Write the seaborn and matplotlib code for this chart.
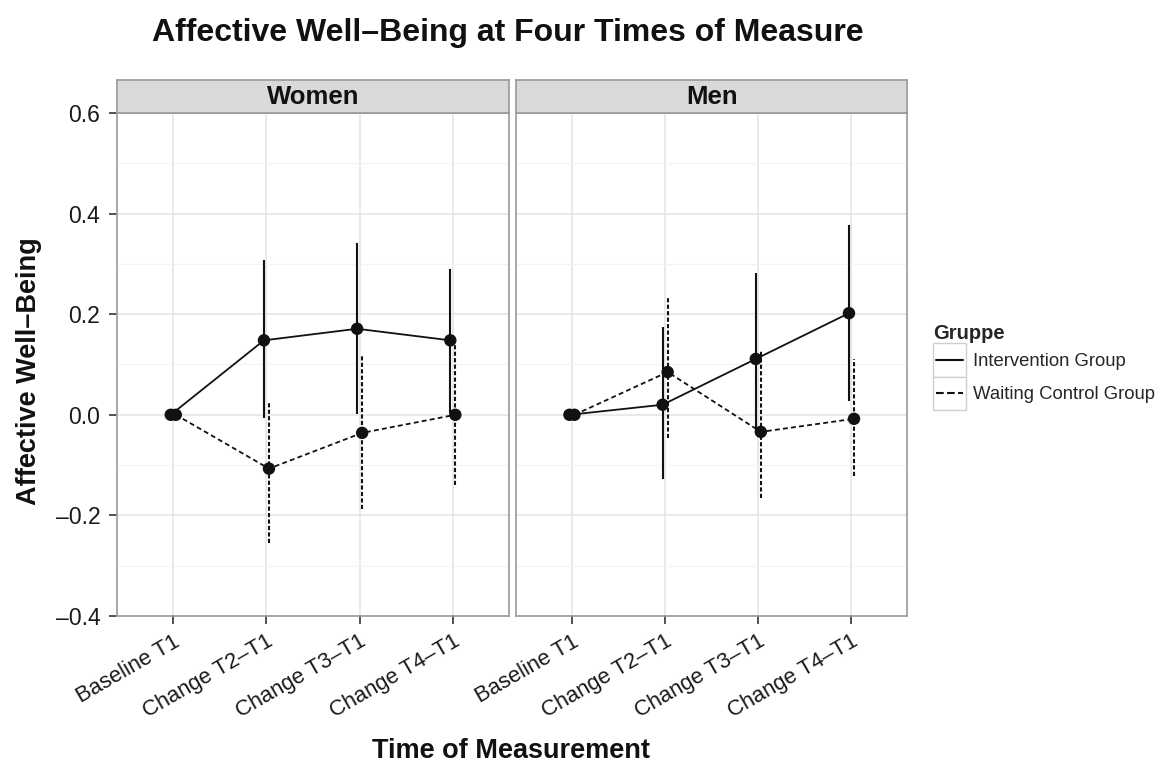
import numpy as np
import pandas as pd
import matplotlib
matplotlib.use('Agg')
import matplotlib.pyplot as plt
import seaborn as sns
from matplotlib.lines import Line2D
from matplotlib.patches import Rectangle
from matplotlib.legend_handler import HandlerBase

sns.set_theme(style='white')
plt.rcParams['font.family'] = ['Liberation Sans', 'DejaVu Sans']

times = ['Baseline T1', 'Change T2–T1', 'Change T3–T1', 'Change T4–T1']
groups = ['Intervention Group', 'Waiting Control Group']
y_ticks = [-0.4, -0.2, 0.0, 0.2, 0.4, 0.6]
y_ticklabels = ['–0.4', '–0.2', '0.0', '0.2', '0.4', '0.6']
y_minor = [-0.3, -0.1, 0.1, 0.3, 0.5]

# women
women_int = [0.0, 0.148, 0.171, 0.148]
women_int_lo = [0.0, -0.007, 0.001, 0.004]
women_int_hi = [0.0, 0.308, 0.341, 0.290]
women_ctl = [0.0, -0.107, -0.036, 0.0]
women_ctl_lo = [0.0, -0.255, -0.187, -0.139]
women_ctl_hi = [0.0, 0.026, 0.118, 0.139]

# men
men_int = [0.0, 0.020, 0.111, 0.202]
men_int_lo = [0.0, -0.128, -0.033, 0.028]
men_int_hi = [0.0, 0.174, 0.282, 0.378]
men_ctl = [0.0, 0.085, -0.034, -0.008]
men_ctl_lo = [0.0, -0.046, -0.166, -0.121]
men_ctl_hi = [0.0, 0.234, 0.126, 0.111]

rows = []
for sex, series in [('Women', [(women_int, women_int_lo, women_int_hi), (women_ctl, women_ctl_lo, women_ctl_hi)]),
                    ('Men', [(men_int, men_int_lo, men_int_hi), (men_ctl, men_ctl_lo, men_ctl_hi)])]:
    for g, (m, lo, hi) in zip(groups, series):
        for i, t in enumerate(times):
            rows.append({'sex': sex, 'group': g, 'time': t, 'idx': i,
                         'mean': m[i], 'lo': lo[i], 'hi': hi[i]})
df = pd.DataFrame(rows)
dodge = {'Intervention Group': -0.027, 'Waiting Control Group': 0.027}
df['x'] = df['idx'] + df['group'].map(dodge)

dash = (0, (2.0, 1.1))
styles = {'Intervention Group': '-', 'Waiting Control Group': dash}
ink = '#111111'


class BoxedLine(HandlerBase):
    # ggplot style legend key: line inside a light grey box
    def create_artists(self, legend, orig_handle, xdescent, ydescent, width, height, fontsize, trans):
        y0 = -ydescent
        yc = y0 + height / 2
        box = Rectangle((-xdescent, y0), width, height, facecolor='white',
                        edgecolor='#cfcfcf', lw=1.0, transform=trans)
        pad = width * 0.1
        line = Line2D([-xdescent + pad, -xdescent + width - pad], [yc, yc],
                      color=orig_handle.get_color(), lw=orig_handle.get_linewidth(),
                      ls=orig_handle.get_linestyle(), transform=trans)
        return [box, line]


fig = plt.figure(figsize=(11.62, 7.76), dpi=100)
pw = 0.3368
bottom, height = 0.2062, 0.6482
lefts = [0.101, 0.4441]
strip_h = 0.0425
border = '#9a9a9a'

for k, sex in enumerate(['Women', 'Men']):
    ax = fig.add_axes([lefts[k], bottom, pw, height])
    sub = df[df['sex'] == sex]
    for g in groups:
        d = sub[(sub['group'] == g) & (sub['idx'] > 0)]
        ax.vlines(d['x'], d['lo'], d['hi'], color=ink, lw=1.5,
                  linestyles=styles[g], zorder=3)
    sns.lineplot(data=sub, x='x', y='mean', style='group', style_order=groups,
                 dashes={'Intervention Group': '', 'Waiting Control Group': (2.7, 1.8)},
                 color=ink, lw=1.3, ax=ax, legend=False, sort=False,
                 estimator=None, zorder=4)
    sns.scatterplot(data=sub, x='x', y='mean', color=ink, s=80,
                    edgecolor='none', ax=ax, legend=False, zorder=5)
    ax.set_xlim(-0.6, 3.6)
    ax.set_ylim(-0.4, 0.6)
    ax.set_yticks(y_ticks)
    ax.set_yticks(y_minor, minor=True)
    ax.set_xticks(range(len(times)))
    ax.set_xticklabels(times, rotation=30, ha='right', rotation_mode='anchor')
    ax.grid(which='major', color='#e3e3e3', lw=1.1)
    ax.grid(which='minor', axis='y', color='#f3f3f3', lw=0.8)
    ax.set_axisbelow(True)
    ax.set_xlabel('')
    ax.set_ylabel('')
    for sp in ax.spines.values():
        sp.set_color(border)
        sp.set_linewidth(1.2)
    ax.tick_params(axis='both', which='major', length=5.8, width=1.2, color='#333333',
                   bottom=True, left=(k == 0), labelcolor='#1a1a1a')
    ax.tick_params(axis='y', which='minor', length=0)
    ax.tick_params(axis='y', pad=6.5, labelsize=16.5)
    ax.tick_params(axis='x', pad=5, labelsize=15.8)
    if k == 1:
        ax.set_yticklabels([])
    else:
        ax.set_yticklabels(y_ticklabels)

    sax = fig.add_axes([lefts[k], bottom + height, pw, strip_h])
    sax.set_facecolor('#d9d9db')
    sax.set_xticks([])
    sax.set_yticks([])
    for sp in sax.spines.values():
        sp.set_color(border)
        sp.set_linewidth(1.2)
    sax.text(0.5, 0.48, sex, ha='center', va='center', fontsize=18.5, fontweight='bold',
             color='#111111', transform=sax.transAxes)

fig.text(0.437, 0.958, 'Affective Well–Being at Four Times of Measure', ha='center', va='center',
         fontsize=23, fontweight='bold', color='#111111')
fig.text(0.44, 0.032, 'Time of Measurement', ha='center', va='center',
         fontsize=19.5, fontweight='bold', color='#111111')
fig.text(0.025, 0.522, 'Affective Well–Being', ha='center', va='center', rotation=90,
         fontsize=19.5, fontweight='bold', color='#111111')

handles = [Line2D([], [], color=ink, lw=1.5, ls='-'),
           Line2D([], [], color=ink, lw=1.5, ls=dash)]
leg = fig.legend(handles, groups, title='Gruppe', loc='upper left',
                 bbox_to_anchor=(0.803, 0.582), frameon=False, fontsize=13.3,
                 title_fontproperties={'weight': 'bold', 'size': 14.5},
                 handlelength=1.8, handleheight=2.4, handletextpad=0.35,
                 labelspacing=0.0, borderaxespad=0, borderpad=0,
                 handler_map={Line2D: BoxedLine()})
leg._legend_box.align = 'left'

fig.savefig('out.png', dpi=100)
